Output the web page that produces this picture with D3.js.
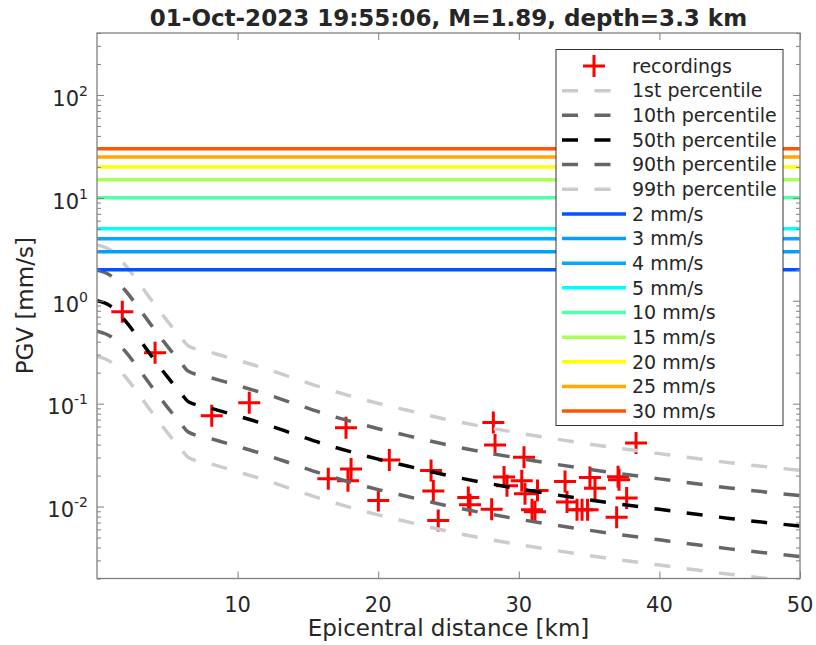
<!DOCTYPE html>
<html><head><meta charset="utf-8">
<script src="https://cdn.jsdelivr.net/npm/d3@7"></script>
<style>body{margin:0;background:#fff} text{font-family:"DejaVu Sans",sans-serif;fill:#262626}</style>
</head><body><svg id="c" width="816" height="645"></svg>
<script>
const titleText = "01-Oct-2023 19:55:06, M=1.89, depth=3.3 km";
const xLabel = "Epicentral distance [km]";
const yLabel = "PGV [mm/s]";

const distances = [0,1,2,3,4,5,6,6.5,8,10,12,14,16,18,20,22,25,30,35,40,45,50];
const p01 = [0.287,0.2535,0.1837,0.1217,0.0792,0.0525,0.0359,0.0300,0.0262,0.0218,0.01803,0.01458,0.0118,0.00982,0.0083,0.00715,0.00574,0.00428,0.00334,0.0027,0.0022,0.00185];
const p10 = [0.506,0.4466,0.3237,0.2145,0.1396,0.0926,0.0632,0.0529,0.0461,0.0384,0.0318,0.0257,0.0208,0.0173,0.01462,0.01259,0.01012,0.00754,0.00589,0.00475,0.00388,0.00327];
const p50 = [1.0,0.883,0.640,0.424,0.276,0.183,0.125,0.1045,0.0912,0.0760,0.0628,0.0508,0.0411,0.0342,0.0289,0.0249,0.0200,0.0149,0.01164,0.0094,0.00767,0.00646];
const p90 = [1.977,1.746,1.265,0.838,0.546,0.362,0.247,0.2066,0.1803,0.1503,0.1242,0.1004,0.0813,0.0676,0.0571,0.0492,0.0395,0.0295,0.0230,0.01858,0.01516,0.01277];
const p99 = [3.483,3.076,2.229,1.477,0.961,0.637,0.435,0.364,0.3176,0.2647,0.2187,0.1769,0.1432,0.1191,0.1007,0.0867,0.0697,0.0519,0.0405,0.0327,0.0267,0.0225];

const recDist = [1.80,4.13,8.16,10.83,17.71,18.07,17.85,16.45,20.01,20.79,23.76,23.92,24.27,26.41,26.53,28.19,28.31,30.37,28.95,29.16,30.21,30.44,31.33,30.94,31.15,28.07,33.29,33.43,34.14,34.5,34.89,35.06,35.42,37.06,37.13,37.67,36.96,38.34];
const recPGV = [0.782,0.313,0.0764,0.102,0.0585,0.0232,0.0178,0.0186,0.01143,0.0284,0.0224,0.0142,0.00731,0.01227,0.0104,0.0656,0.0397,0.0301,0.0194,0.0159,0.0178,0.0133,0.01436,0.00929,0.00889,0.00944,0.0175,0.0111,0.00929,0.00929,0.00929,0.0192,0.0151,0.0195,0.0182,0.0121,0.00788,0.0415];

const thresholds = [2,3,4,5,10,15,20,25,30];
const thresholdColors = ["#0055ff","#00a0ff","#00aaff","#00ffff","#55ffaa","#aaff55","#ffff00","#ffaa00","#ff5500"];

const percentileNames = ["1st percentile","10th percentile","50th percentile","90th percentile","99th percentile"];
const percentileColors = ["#cccccc","#666666","#000000","#666666","#cccccc"];

const xTicks = [10,20,30,40,50];
const yTicks = [0.01,0.1,1,10,100];
const yTickExp = ["-2","-1","0","1","2"];

const W = 816, H = 645;
const L = 97, R = 800, T = 33, B = 578.5;
const svg = d3.select("#c");
svg.append("rect").attr("width",W).attr("height",H).attr("fill","#fff");

const x = d3.scaleLinear().domain([0,50]).range([L,R]);
const y = d3.scaleLog().domain([0.002,400]).range([B,T]);

svg.append("defs").append("clipPath").attr("id","clip")
  .append("rect").attr("x",L).attr("y",T).attr("width",R-L).attr("height",B-T);
const plot = svg.append("g").attr("clip-path","url(#clip)");

// recordings
const crossSize = 11;
plot.append("g").selectAll("path").data(recDist.map((d,i)=>[d,recPGV[i]])).join("path")
  .attr("d",d=>{const cx=x(d[0]),cy=y(d[1]);return `M${cx-crossSize},${cy}H${cx+crossSize}M${cx},${cy-crossSize}V${cy+crossSize}`;})
  .attr("stroke","#ff0000").attr("stroke-width",3).attr("fill","none");

// percentiles
const pSeries = [p01,p10,p50,p90,p99];
const line = d3.line().x(d=>x(d[0])).y(d=>y(d[1])).curve(d3.curveMonotoneX);
pSeries.forEach((s,k)=>{
  plot.append("path").datum(distances.map((d,i)=>[d,s[i]]))
    .attr("d",line).attr("fill","none").attr("stroke",percentileColors[k])
    .attr("stroke-width",3.5).attr("stroke-dasharray","16,16.5");
});

// thresholds
thresholds.forEach((t,k)=>{
  plot.append("line").attr("x1",x(0)).attr("x2",x(50)).attr("y1",y(t)).attr("y2",y(t))
    .attr("stroke",thresholdColors[k]).attr("stroke-width",3.5);
});

// axes
const axisColor = "#808080";
const ax = svg.append("g");
const minor = y.ticks().filter(v=>!yTicks.some(t=>Math.abs(t-v)/v<1e-6));
const xAll = xTicks;
ax.append("g").attr("transform",`translate(0,${B})`).call(d3.axisBottom(x).tickValues(xAll).tickSize(-7).tickFormat("")).call(g=>g.select(".domain").remove());
ax.append("g").attr("transform",`translate(0,${T})`).call(d3.axisTop(x).tickValues(xAll).tickSize(-7).tickFormat("")).call(g=>g.select(".domain").remove());
ax.append("g").attr("transform",`translate(${L},0)`).call(d3.axisLeft(y).tickValues(yTicks).tickSize(-7).tickFormat("")).call(g=>g.select(".domain").remove());
ax.append("g").attr("transform",`translate(${L},0)`).call(d3.axisLeft(y).tickValues(minor).tickSize(-4).tickFormat("")).call(g=>g.select(".domain").remove());
ax.append("g").attr("transform",`translate(${R},0)`).call(d3.axisRight(y).tickValues(yTicks).tickSize(-7).tickFormat("")).call(g=>g.select(".domain").remove());
ax.append("g").attr("transform",`translate(${R},0)`).call(d3.axisRight(y).tickValues(minor).tickSize(-4).tickFormat("")).call(g=>g.select(".domain").remove());
ax.selectAll(".tick line").attr("stroke",axisColor).attr("stroke-width",1);
ax.append("rect").attr("x",L).attr("y",T).attr("width",R-L).attr("height",B-T)
  .attr("fill","none").attr("stroke",axisColor).attr("stroke-width",1.3);

// tick labels
svg.append("g").selectAll("text").data(xTicks).join("text")
  .attr("x",d=>x(d)).attr("y",B+33).attr("text-anchor","middle").attr("font-size",21).text(d=>d);
const yl = svg.append("g").selectAll("text").data(yTicks).join("text")
  .attr("x",88).attr("y",d=>y(d)+10.8).attr("text-anchor","end").attr("font-size",21);
yl.append("tspan").text("10");
yl.append("tspan").attr("font-size",14).attr("dy",-10).text((d,i)=>yTickExp[i]);

// labels
svg.append("text").attr("x",(L+R)/2).attr("y",636).attr("text-anchor","middle").attr("font-size",23).text(xLabel);
svg.append("text").attr("transform",`translate(33,${(T+B)/2}) rotate(-90)`).attr("text-anchor","middle").attr("font-size",23).text(yLabel);
svg.append("text").attr("x",(L+R)/2).attr("y",26).attr("text-anchor","middle").attr("font-size",23).attr("font-weight","bold").attr("fill","#000").text(titleText);

// legend
const lg = svg.append("g");
lg.append("rect").attr("x",556).attr("y",49.5).attr("width",227).attr("height",376).attr("fill","#fff").attr("stroke","#333").attr("stroke-width",1);
const ly0 = 66, lstep = 24.65, lx1 = 562, lx2 = 626, ltx = 632;
const entries = [{name:"recordings",type:"rec"}]
  .concat(percentileNames.map((n,k)=>({name:n,type:"dash",color:percentileColors[k]})))
  .concat(thresholds.map((t,k)=>({name:t+" mm/s",type:"solid",color:thresholdColors[k]})));
entries.forEach((e,i)=>{
  const yy = ly0 + i*lstep;
  if(e.type==="rec"){
    const cx=(lx1+lx2)/2;
    lg.append("path").attr("d",`M${cx-crossSize},${yy}H${cx+crossSize}M${cx},${yy-crossSize}V${yy+crossSize}`).attr("stroke","#ff0000").attr("stroke-width",3);
  } else {
    lg.append("line").attr("x1",lx1).attr("x2",lx2).attr("y1",yy).attr("y2",yy).attr("stroke",e.color)
      .attr("stroke-width",3.5).attr("stroke-dasharray",e.type==="dash"?"16,16.5":null);
  }
  lg.append("text").attr("x",ltx).attr("y",yy+6.8).attr("font-size",19).text(e.name);
});
</script></body></html>
